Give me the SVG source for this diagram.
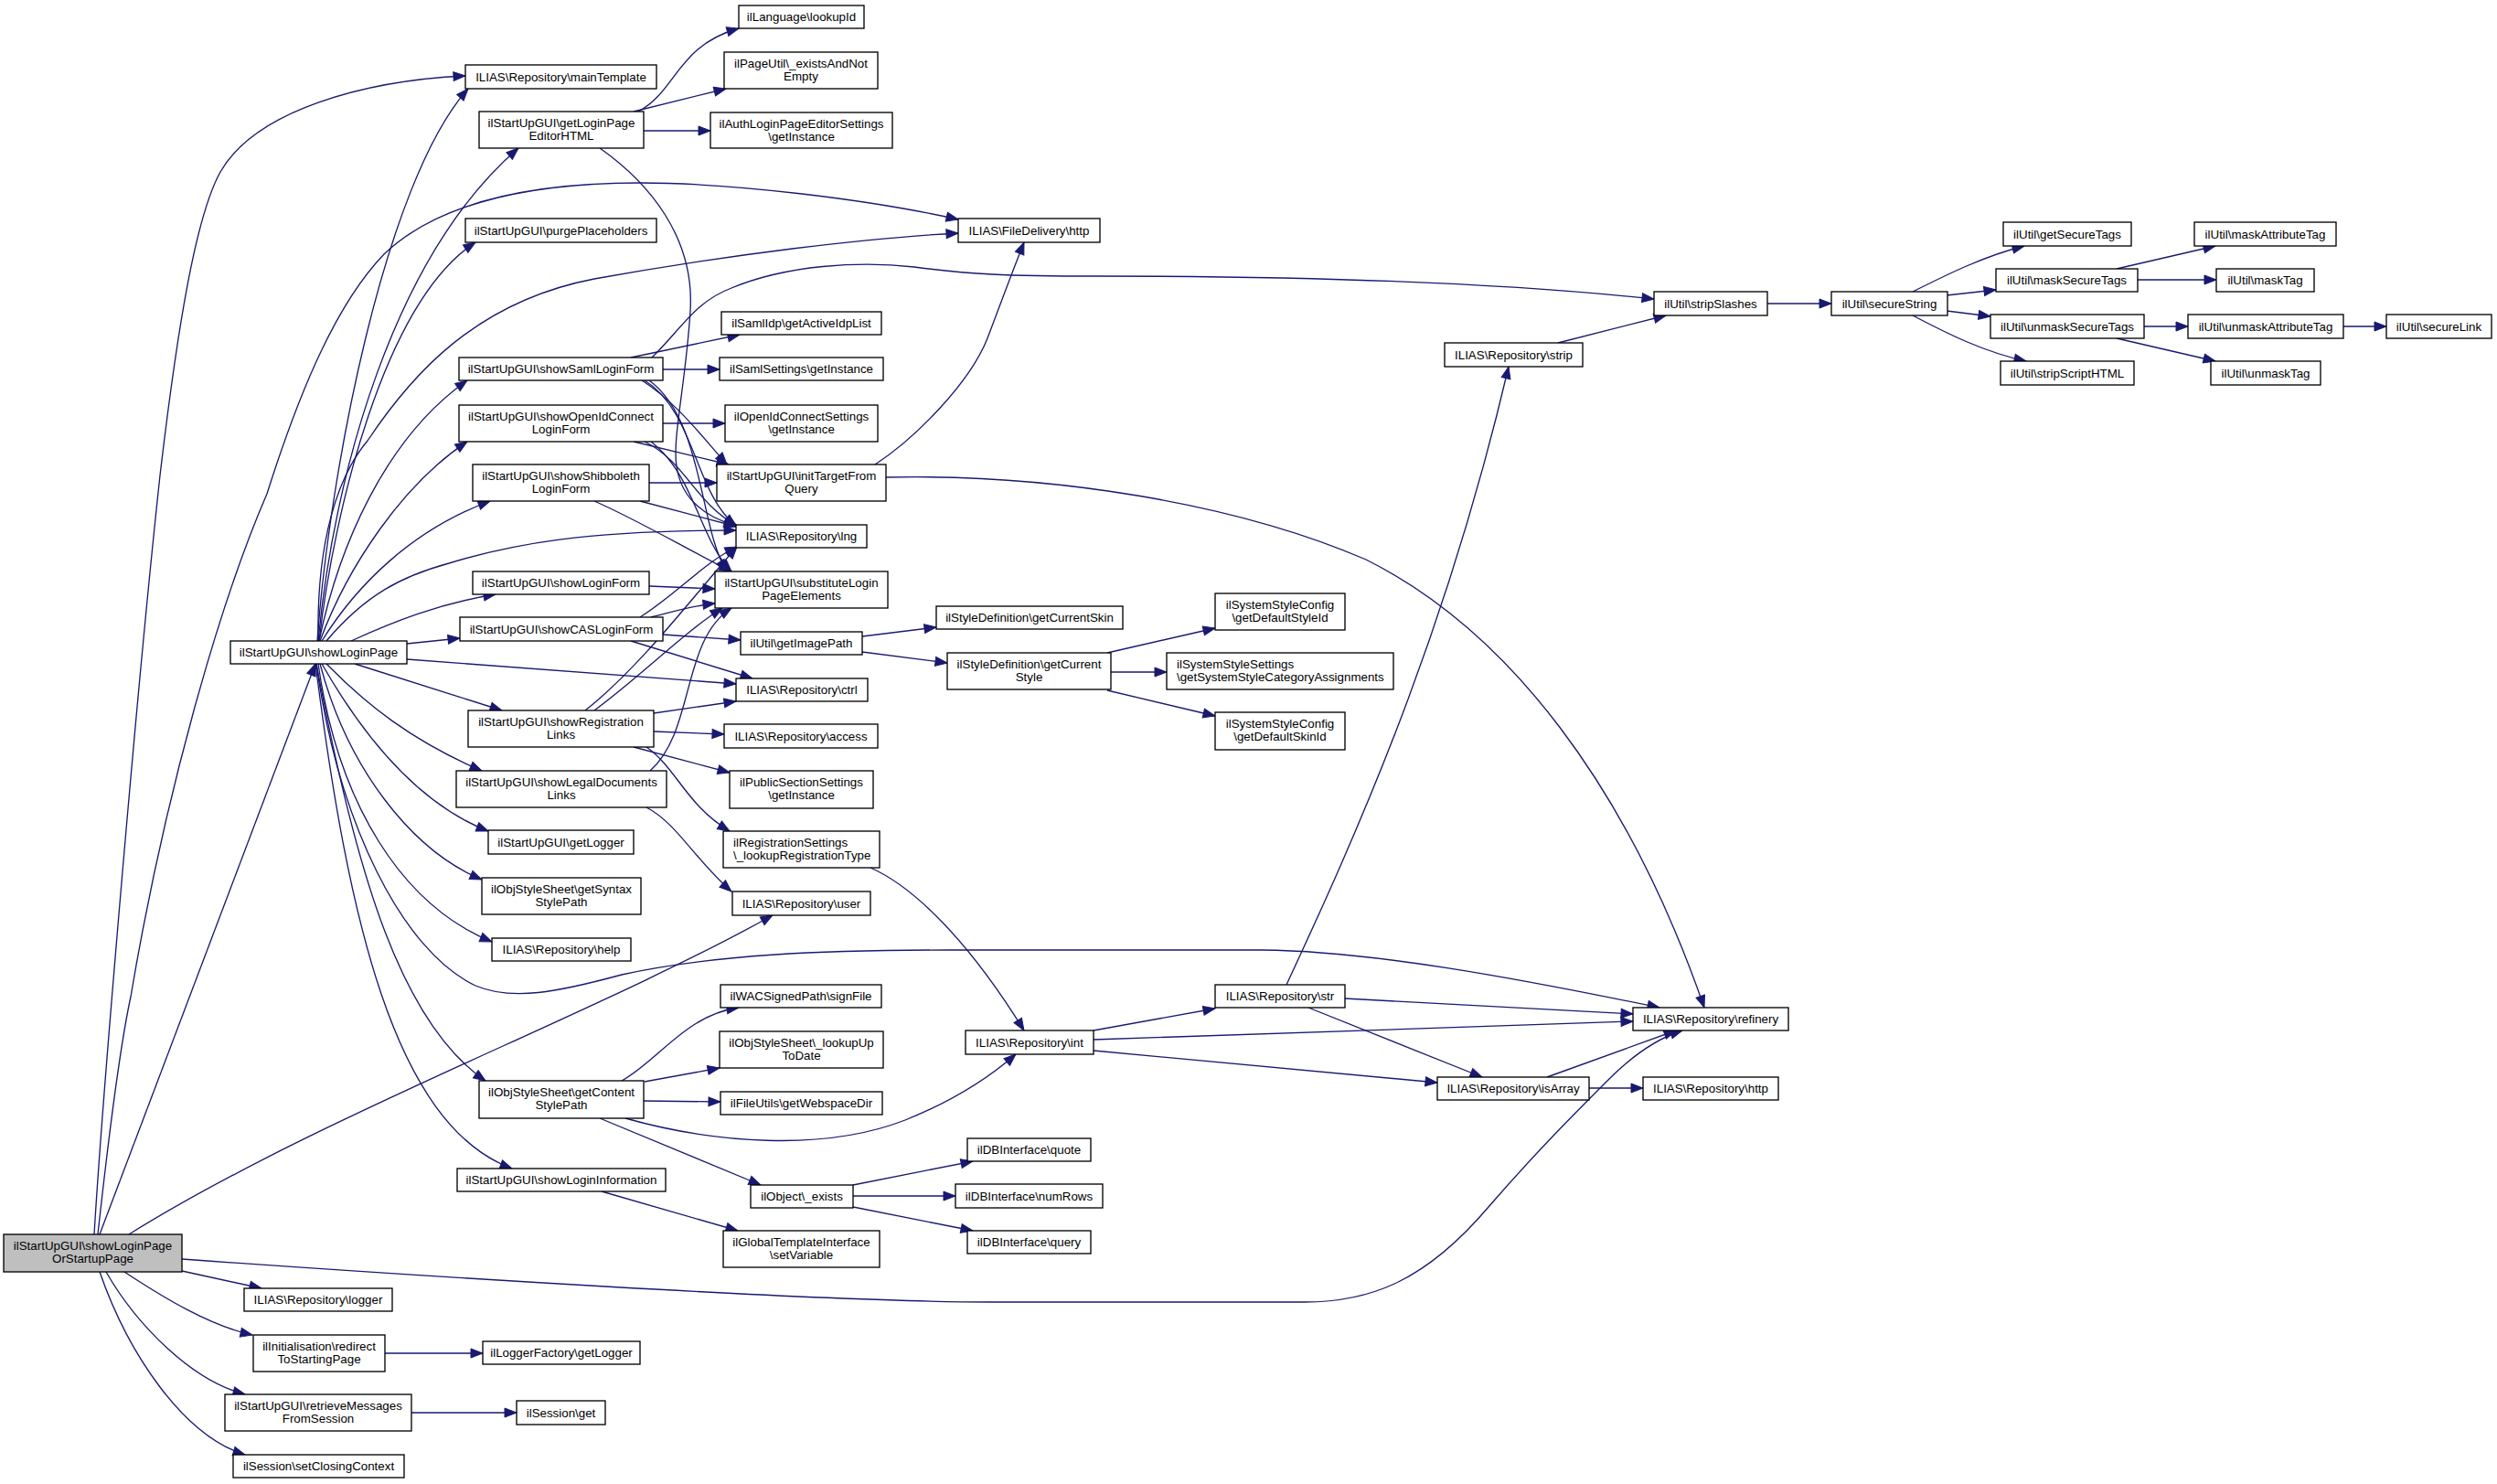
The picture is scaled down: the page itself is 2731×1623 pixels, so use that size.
<svg xmlns="http://www.w3.org/2000/svg" width="2731" height="1623" viewBox="0 0 2731 1623">
<defs>
<style>
.node rect{fill:#fff;stroke:#000;stroke-width:1.33}
.node rect.root{fill:#bfbfbf}
.node text{font-family:"Liberation Sans",Arial,Helvetica,sans-serif;font-size:13.33px;text-anchor:middle;fill:#000}
.node text.l{text-anchor:start}
.edges path{fill:none;stroke:#191970;stroke-width:1.33;marker-end:url(#ah)}
</style>
<marker id="ah" markerWidth="13" markerHeight="10" refX="13" refY="5" orient="auto" markerUnits="userSpaceOnUse" overflow="visible"><path d="M0,0 L13,5 L0,10 z" fill="#191970" stroke="#191970" stroke-width="1"/></marker>
</defs>
<rect x="0" y="0" width="2731" height="1623" fill="#fff"/>
<g id="edges" class="edges">
<path d="M103,1350 C112,1200 150,750 175,520 C195,350 215,235 241,188 C280,120 400,88 509,83"/>
<path d="M107,1350 C118,1250 130,1150 143,1090 C180,870 240,660 292,540 C330,420 370,330 420,278 C470,230 560,200 700,200 C800,200 950,218 1048,240"/>
<path d="M109,1350 L345,726"/>
<path d="M141,1350 C350,1220 650,1110 845,1001"/>
<path d="M199,1377 C450,1395 900,1424 1082,1424 L1427,1424 C1500,1424 1560,1400 1628,1320 C1680,1260 1720,1220 1760,1180 C1790,1150 1815,1135 1840,1127"/>
<path d="M199,1390 L286,1409"/>
<path d="M136,1391 C180,1420 230,1450 276,1460"/>
<path d="M116,1391 C150,1450 210,1510 268,1525"/>
<path d="M109,1391 C140,1480 200,1570 268,1591"/>
<path d="M421,1480 L528,1480"/>
<path d="M450,1545 L565,1545"/>
<path d="M347,701 C360,520 420,200 512,97"/>
<path d="M348,701 C365,520 430,280 567,162"/>
<path d="M349,701 C365,560 420,330 520,265"/>
<path d="M348,701 C346,590 370,520 402,482 C450,410 520,330 650,305 C800,278 950,260 1048,255"/>
<path d="M349,701 C370,600 420,480 511,416"/>
<path d="M350,701 C380,620 440,530 511,483"/>
<path d="M352,701 C390,640 450,580 536,548"/>
<path d="M357,701 C400,650 440,630 491,616 C560,595 640,580 805,580"/>
<path d="M384,701 C430,680 480,660 542,650"/>
<path d="M445,704 L503,698"/>
<path d="M445,721 L805,748"/>
<path d="M388,726 L549,777"/>
<path d="M357,726 C400,770 450,810 527,843"/>
<path d="M352,726 C400,810 460,880 534,909"/>
<path d="M350,726 C380,840 450,930 527,962"/>
<path d="M348,726 C370,880 440,990 538,1030"/>
<path d="M346,726 C370,900 440,1040 520,1078 C560,1095 610,1085 680,1066 C780,1044 900,1039 1037,1039 L1380,1039 C1500,1040 1660,1070 1815,1102"/>
<path d="M346,726 C390,960 440,1120 531,1182"/>
<path d="M345,726 C380,1000 430,1230 560,1278"/>
<path d="M698,122 C740,100 740,50 808,31"/>
<path d="M693,122 L794,97"/>
<path d="M704,143 L777,143"/>
<path d="M656,162 C710,200 760,260 755,340 C750,420 735,480 740,510 C745,545 770,565 805,575"/>
<path d="M713,391 C745,360 760,330 800,315 C860,290 940,285 1000,292 C1060,300 1100,302 1200,302 C1450,302 1650,310 1809,327"/>
<path d="M690,391 L809,366"/>
<path d="M725,404 L787,404"/>
<path d="M702,416 C740,440 770,480 795,508"/>
<path d="M705,416 C760,450 760,540 805,575"/>
<path d="M710,416 C770,460 765,580 795,625"/>
<path d="M693,483 L797,508"/>
<path d="M705,483 C750,505 760,550 806,575"/>
<path d="M712,483 C760,520 765,590 800,625"/>
<path d="M725,463 L793,463"/>
<path d="M710,528 L784,528"/>
<path d="M700,548 L806,576"/>
<path d="M650,548 C700,570 750,600 800,625"/>
<path d="M957,508 C1000,480 1060,420 1080,370 C1095,330 1110,290 1120,265"/>
<path d="M969,522 C1150,518 1350,550 1494,612 C1650,690 1780,860 1864,1102"/>
<path d="M710,641 L782,644"/>
<path d="M725,694 L810,700"/>
<path d="M690,701 L823,742"/>
<path d="M700,675 C740,650 770,615 806,598"/>
<path d="M712,675 C740,668 760,662 782,660"/>
<path d="M715,780 L805,767"/>
<path d="M715,800 L792,803"/>
<path d="M693,817 L798,845"/>
<path d="M707,817 C740,840 750,880 798,909"/>
<path d="M640,777 C700,730 760,650 806,598"/>
<path d="M650,777 C700,740 750,690 790,665"/>
<path d="M707,883 C740,900 760,940 800,975"/>
<path d="M711,843 C760,800 745,700 800,665"/>
<path d="M680,1182 C720,1160 750,1110 808,1102"/>
<path d="M705,1183 L787,1168"/>
<path d="M704,1204 L788,1205"/>
<path d="M684,1223 C780,1250 900,1260 990,1225 C1040,1205 1080,1180 1111,1153"/>
<path d="M656,1223 L832,1296"/>
<path d="M658,1303 L807,1346"/>
<path d="M933,1296 L1064,1270"/>
<path d="M933,1308 L1045,1308"/>
<path d="M933,1320 L1064,1346"/>
<path d="M952,949 C1000,970 1060,1030 1120,1127"/>
<path d="M943,696 L1024,686"/>
<path d="M943,713 L1036,725"/>
<path d="M1211,714 L1329,687"/>
<path d="M1215,735 L1276,735"/>
<path d="M1211,755 L1329,783"/>
<path d="M1196,1127 L1329,1103"/>
<path d="M1196,1137 L1786,1117"/>
<path d="M1196,1149 L1572,1184"/>
<path d="M1407,1077 C1480,920 1580,700 1650,401"/>
<path d="M1471,1092 L1786,1109"/>
<path d="M1431,1102 L1621,1178"/>
<path d="M1692,1178 L1833,1127"/>
<path d="M1738,1190 L1797,1190"/>
<path d="M1704,375 L1822,345"/>
<path d="M1933,332 L2003,332"/>
<path d="M2092,319 C2130,300 2170,280 2214,269"/>
<path d="M2129,323 L2183,317"/>
<path d="M2129,340 L2177,346"/>
<path d="M2092,345 C2130,365 2170,385 2216,395"/>
<path d="M2315,294 L2423,269"/>
<path d="M2338,306 L2424,306"/>
<path d="M2345,357 L2393,357"/>
<path d="M2315,370 L2423,395"/>
<path d="M2563,357 L2610,357"/>
</g>
<g id="n0" class="node"><rect class="root" x="4" y="1350" width="195" height="41"/><text x="101.5" y="1366.5">ilStartUpGUI\showLoginPage</text><text x="101.5" y="1381">OrStartupPage</text></g>
<g id="n1" class="node"><rect x="252" y="701" width="193" height="25"/><text x="348.5" y="718">ilStartUpGUI\showLoginPage</text></g>
<g id="n2" class="node"><rect x="267" y="1409" width="162" height="25"/><text x="348" y="1426">ILIAS\Repository\logger</text></g>
<g id="n3" class="node"><rect x="277" y="1460" width="144" height="40"/><text x="349" y="1476.5">ilInitialisation\redirect</text><text x="349" y="1491">ToStartingPage</text></g>
<g id="n4" class="node"><rect x="246" y="1525" width="204" height="40"/><text x="348" y="1541.5">ilStartUpGUI\retrieveMessages</text><text x="348" y="1556">FromSession</text></g>
<g id="n5" class="node"><rect x="255" y="1591" width="187" height="25"/><text x="348.5" y="1608">ilSession\setClosingContext</text></g>
<g id="n6" class="node"><rect x="509" y="71" width="209" height="26"/><text x="613.5" y="88.5">ILIAS\Repository\mainTemplate</text></g>
<g id="n7" class="node"><rect x="524" y="122" width="180" height="40"/><text x="614" y="138.5">ilStartUpGUI\getLoginPage</text><text x="614" y="153">EditorHTML</text></g>
<g id="n8" class="node"><rect x="509" y="239" width="209" height="26"/><text x="613.5" y="256.5">ilStartUpGUI\purgePlaceholders</text></g>
<g id="n9" class="node"><rect x="502" y="391" width="223" height="25"/><text x="613.5" y="408">ilStartUpGUI\showSamlLoginForm</text></g>
<g id="n10" class="node"><rect x="502" y="443" width="223" height="40"/><text x="613.5" y="459.5">ilStartUpGUI\showOpenIdConnect</text><text x="613.5" y="474">LoginForm</text></g>
<g id="n11" class="node"><rect x="517" y="508" width="193" height="40"/><text x="613.5" y="524.5">ilStartUpGUI\showShibboleth</text><text x="613.5" y="539">LoginForm</text></g>
<g id="n12" class="node"><rect x="517" y="625" width="193" height="25"/><text x="613.5" y="642">ilStartUpGUI\showLoginForm</text></g>
<g id="n13" class="node"><rect x="503" y="675" width="222" height="26"/><text x="614" y="692.5">ilStartUpGUI\showCASLoginForm</text></g>
<g id="n14" class="node"><rect x="512" y="777" width="203" height="40"/><text x="613.5" y="793.5">ilStartUpGUI\showRegistration</text><text x="613.5" y="808">Links</text></g>
<g id="n15" class="node"><rect x="499" y="843" width="230" height="40"/><text x="614" y="859.5">ilStartUpGUI\showLegalDocuments</text><text x="614" y="874">Links</text></g>
<g id="n16" class="node"><rect x="534" y="908" width="159" height="26"/><text x="613.5" y="925.5">ilStartUpGUI\getLogger</text></g>
<g id="n17" class="node"><rect x="527" y="960" width="174" height="40"/><text x="614" y="976.5">ilObjStyleSheet\getSyntax</text><text x="614" y="991">StylePath</text></g>
<g id="n18" class="node"><rect x="538" y="1026" width="152" height="25"/><text x="614" y="1043">ILIAS\Repository\help</text></g>
<g id="n19" class="node"><rect x="524" y="1182" width="180" height="41"/><text x="614" y="1198.5">ilObjStyleSheet\getContent</text><text x="614" y="1213">StylePath</text></g>
<g id="n20" class="node"><rect x="500" y="1278" width="228" height="25"/><text x="614" y="1295">ilStartUpGUI\showLoginInformation</text></g>
<g id="n21" class="node"><rect x="528" y="1467" width="172" height="25"/><text x="614" y="1484">ilLoggerFactory\getLogger</text></g>
<g id="n22" class="node"><rect x="565" y="1532" width="97" height="26"/><text x="613.5" y="1549.5">ilSession\get</text></g>
<g id="n23" class="node"><rect x="808" y="6" width="137" height="25"/><text x="876.5" y="23">ilLanguage\lookupId</text></g>
<g id="n24" class="node"><rect x="792" y="57" width="168" height="40"/><text x="876" y="73.5">ilPageUtil\_existsAndNot</text><text x="876" y="88">Empty</text></g>
<g id="n25" class="node"><rect x="777" y="123" width="199" height="39"/><text x="876.5" y="139.5">ilAuthLoginPageEditorSettings</text><text x="876.5" y="154">\getInstance</text></g>
<g id="n26" class="node"><rect x="789" y="341" width="175" height="25"/><text x="876.5" y="358">ilSamlIdp\getActiveIdpList</text></g>
<g id="n27" class="node"><rect x="787" y="391" width="179" height="25"/><text x="876.5" y="408">ilSamlSettings\getInstance</text></g>
<g id="n28" class="node"><rect x="793" y="443" width="167" height="40"/><text x="876.5" y="459.5">ilOpenIdConnectSettings</text><text x="876.5" y="474">\getInstance</text></g>
<g id="n29" class="node"><rect x="784" y="508" width="185" height="40"/><text x="876.5" y="524.5">ilStartUpGUI\initTargetFrom</text><text x="876.5" y="539">Query</text></g>
<g id="n30" class="node"><rect x="805" y="574" width="143" height="25"/><text x="876.5" y="591">ILIAS\Repository\lng</text></g>
<g id="n31" class="node"><rect x="782" y="625" width="189" height="40"/><text x="876.5" y="641.5">ilStartUpGUI\substituteLogin</text><text x="876.5" y="656">PageElements</text></g>
<g id="n32" class="node"><rect x="810" y="691" width="133" height="25"/><text x="876.5" y="708">ilUtil\getImagePath</text></g>
<g id="n33" class="node"><rect x="805" y="742" width="144" height="25"/><text x="877" y="759">ILIAS\Repository\ctrl</text></g>
<g id="n34" class="node"><rect x="792" y="792" width="168" height="26"/><text x="876" y="809.5">ILIAS\Repository\access</text></g>
<g id="n35" class="node"><rect x="798" y="843" width="157" height="41"/><text x="876.5" y="859.5">ilPublicSectionSettings</text><text x="876.5" y="874">\getInstance</text></g>
<g id="n36" class="node"><rect x="791" y="909" width="171" height="40"/><text class="l" x="802" y="925.5">ilRegistrationSettings</text><text class="l" x="802" y="940">\_lookupRegistrationType</text></g>
<g id="n37" class="node"><rect x="801" y="975" width="151" height="26"/><text x="876.5" y="992.5">ILIAS\Repository\user</text></g>
<g id="n38" class="node"><rect x="788" y="1077" width="176" height="25"/><text x="876" y="1094">ilWACSignedPath\signFile</text></g>
<g id="n39" class="node"><rect x="787" y="1128" width="179" height="40"/><text x="876.5" y="1144.5">ilObjStyleSheet\_lookupUp</text><text x="876.5" y="1159">ToDate</text></g>
<g id="n40" class="node"><rect x="788" y="1194" width="177" height="25"/><text x="876.5" y="1211">ilFileUtils\getWebspaceDir</text></g>
<g id="n41" class="node"><rect x="821" y="1296" width="112" height="25"/><text x="877" y="1313">ilObject\_exists</text></g>
<g id="n42" class="node"><rect x="791" y="1346" width="171" height="40"/><text x="876.5" y="1362.5">ilGlobalTemplateInterface</text><text x="876.5" y="1377">\setVariable</text></g>
<g id="n43" class="node"><rect x="1048" y="239" width="155" height="26"/><text x="1125.5" y="256.5">ILIAS\FileDelivery\http</text></g>
<g id="n44" class="node"><rect x="1024" y="663" width="204" height="25"/><text x="1126" y="680">ilStyleDefinition\getCurrentSkin</text></g>
<g id="n45" class="node"><rect x="1036" y="714" width="179" height="40"/><text x="1125.5" y="730.5">ilStyleDefinition\getCurrent</text><text x="1125.5" y="745">Style</text></g>
<g id="n46" class="node"><rect x="1056" y="1127" width="140" height="26"/><text x="1126" y="1144.5">ILIAS\Repository\int</text></g>
<g id="n47" class="node"><rect x="1058" y="1245" width="135" height="25"/><text x="1125.5" y="1262">ilDBInterface\quote</text></g>
<g id="n48" class="node"><rect x="1045" y="1295" width="161" height="26"/><text x="1125.5" y="1312.5">ilDBInterface\numRows</text></g>
<g id="n49" class="node"><rect x="1058" y="1346" width="135" height="25"/><text x="1125.5" y="1363">ilDBInterface\query</text></g>
<g id="n50" class="node"><rect x="1580" y="375" width="151" height="26"/><text x="1655.5" y="392.5">ILIAS\Repository\strip</text></g>
<g id="n51" class="node"><rect x="1329" y="649" width="142" height="40"/><text x="1400" y="665.5">ilSystemStyleConfig</text><text x="1400" y="680">\getDefaultStyleId</text></g>
<g id="n52" class="node"><rect x="1276" y="714" width="248" height="40"/><text class="l" x="1287" y="730.5">ilSystemStyleSettings</text><text class="l" x="1287" y="745">\getSystemStyleCategoryAssignments</text></g>
<g id="n53" class="node"><rect x="1329" y="779" width="142" height="41"/><text x="1400" y="795.5">ilSystemStyleConfig</text><text x="1400" y="810">\getDefaultSkinId</text></g>
<g id="n54" class="node"><rect x="1329" y="1077" width="142" height="25"/><text x="1400" y="1094">ILIAS\Repository\str</text></g>
<g id="n55" class="node"><rect x="1572" y="1178" width="166" height="25"/><text x="1655" y="1195">ILIAS\Repository\isArray</text></g>
<g id="n56" class="node"><rect x="1809" y="319" width="124" height="26"/><text x="1871" y="336.5">ilUtil\stripSlashes</text></g>
<g id="n57" class="node"><rect x="1786" y="1102" width="170" height="25"/><text x="1871" y="1119">ILIAS\Repository\refinery</text></g>
<g id="n58" class="node"><rect x="1797" y="1178" width="148" height="25"/><text x="1871" y="1195">ILIAS\Repository\http</text></g>
<g id="n59" class="node"><rect x="2003" y="319" width="127" height="26"/><text x="2066.5" y="336.5">ilUtil\secureString</text></g>
<g id="n60" class="node"><rect x="2191" y="243" width="140" height="26"/><text x="2261" y="260.5">ilUtil\getSecureTags</text></g>
<g id="n61" class="node"><rect x="2183" y="294" width="155" height="25"/><text x="2260.5" y="311">ilUtil\maskSecureTags</text></g>
<g id="n62" class="node"><rect x="2177" y="344" width="168" height="26"/><text x="2261" y="361.5">ilUtil\unmaskSecureTags</text></g>
<g id="n63" class="node"><rect x="2188" y="395" width="146" height="26"/><text x="2261" y="412.5">ilUtil\stripScriptHTML</text></g>
<g id="n64" class="node"><rect x="2400" y="243" width="155" height="26"/><text x="2477.5" y="260.5">ilUtil\maskAttributeTag</text></g>
<g id="n65" class="node"><rect x="2424" y="294" width="107" height="25"/><text x="2477.5" y="311">ilUtil\maskTag</text></g>
<g id="n66" class="node"><rect x="2393" y="344" width="170" height="26"/><text x="2478" y="361.5">ilUtil\unmaskAttributeTag</text></g>
<g id="n67" class="node"><rect x="2418" y="395" width="120" height="26"/><text x="2478" y="412.5">ilUtil\unmaskTag</text></g>
<g id="n68" class="node"><rect x="2610" y="344" width="115" height="26"/><text x="2667.5" y="361.5">ilUtil\secureLink</text></g>
</svg>
